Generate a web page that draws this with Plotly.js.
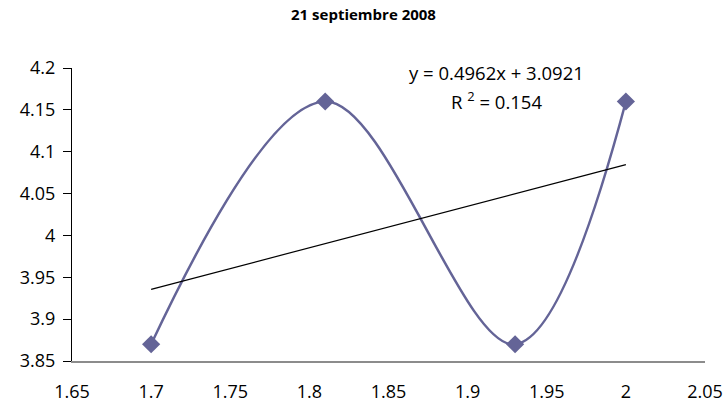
<!DOCTYPE html>
<html>
<head>
<meta charset="utf-8">
<script src="https://cdn.plot.ly/plotly-3.0.1.min.js"></script>
<style>html,body{margin:0;padding:0;background:#fff;}#chart{width:727px;height:407px;}</style>
</head>
<body>
<div id="chart"></div>
<script>
var titleText = "21 septiembre 2008";
var xValues = [1.7, 1.81, 1.93, 2.0];
var yValues = [3.87, 4.16, 3.87, 4.16];
var trendSlope = 0.4962;
var trendIntercept = 3.0921;
var trendR2 = 0.154;
var xTicks = [1.65, 1.7, 1.75, 1.8, 1.85, 1.9, 1.95, 2.0, 2.05];
var xTickLabels = ["1.65", "1.7", "1.75", "1.8", "1.85", "1.9", "1.95", "2", "2.05"];
var yTicks = [3.85, 3.9, 3.95, 4.0, 4.05, 4.1, 4.15, 4.2];
var yTickLabels = ["3.85", "3.9", "3.95", "4", "4.05", "4.1", "4.15", "4.2"];

var trendX = [Math.min.apply(null, xValues), Math.max.apply(null, xValues)];
var trendY = trendX.map(function (x) { return trendSlope * x + trendIntercept; });

var font = "Open Sans, Noto Sans, sans-serif";
var seriesColor = "#646497";

var data = [
  {
    x: xValues, y: yValues, type: "scatter", mode: "lines+markers",
    line: {shape: "spline", smoothing: 1, color: seriesColor, width: 2.5},
    marker: {symbol: "diamond", size: 14, color: seriesColor},
    hoverinfo: "skip", showlegend: false
  },
  {
    x: trendX, y: trendY, type: "scatter", mode: "lines",
    line: {color: "#000", width: 1.2},
    hoverinfo: "skip", showlegend: false
  }
];

var layout = {
  width: 727, height: 407,
  margin: {l: 72, r: 22, t: 68, b: 46},
  paper_bgcolor: "#fff", plot_bgcolor: "#fff",
  font: {family: font, color: "#000", size: 18},
  title: {text: "<b>" + titleText + "</b>", font: {family: font, size: 15, color: "#000"}, x: 0.5, xanchor: "center", y: 0.963, yanchor: "middle"},
  xaxis: {
    range: [1.65, 2.05], tickvals: xTicks, ticktext: xTickLabels,
    showgrid: false, zeroline: false, showline: true, linecolor: "#8c8c8c", linewidth: 1.5,
    ticks: "outside", ticklen: 14, tickcolor: "rgba(0,0,0,0)", tickfont: {size: 18, family: font}, fixedrange: true
  },
  yaxis: {
    range: [3.85, 4.2], tickvals: yTicks, ticktext: yTickLabels,
    showgrid: false, zeroline: false, showline: true, linecolor: "#000", linewidth: 1,
    ticks: "outside", ticklen: 8, tickcolor: "#000", tickwidth: 1, ticklabelstandoff: 4,
    tickfont: {size: 18, family: font}, fixedrange: true
  },
  annotations: [
    {xref: "paper", yref: "paper", x: 0.671, y: 0.986, xanchor: "center", yanchor: "middle",
     text: "y = " + trendSlope + "x + " + trendIntercept, showarrow: false, font: {size: 18.5, family: font}},
    {xref: "paper", yref: "paper", x: 0.671, y: 0.89, xanchor: "center", yanchor: "middle",
     text: "R <sup>2</sup> = " + trendR2, showarrow: false, font: {size: 18.5, family: font}}
  ]
};

Plotly.newPlot("chart", data, layout, {displayModeBar: false, staticPlot: true});
</script>
</body>
</html>
